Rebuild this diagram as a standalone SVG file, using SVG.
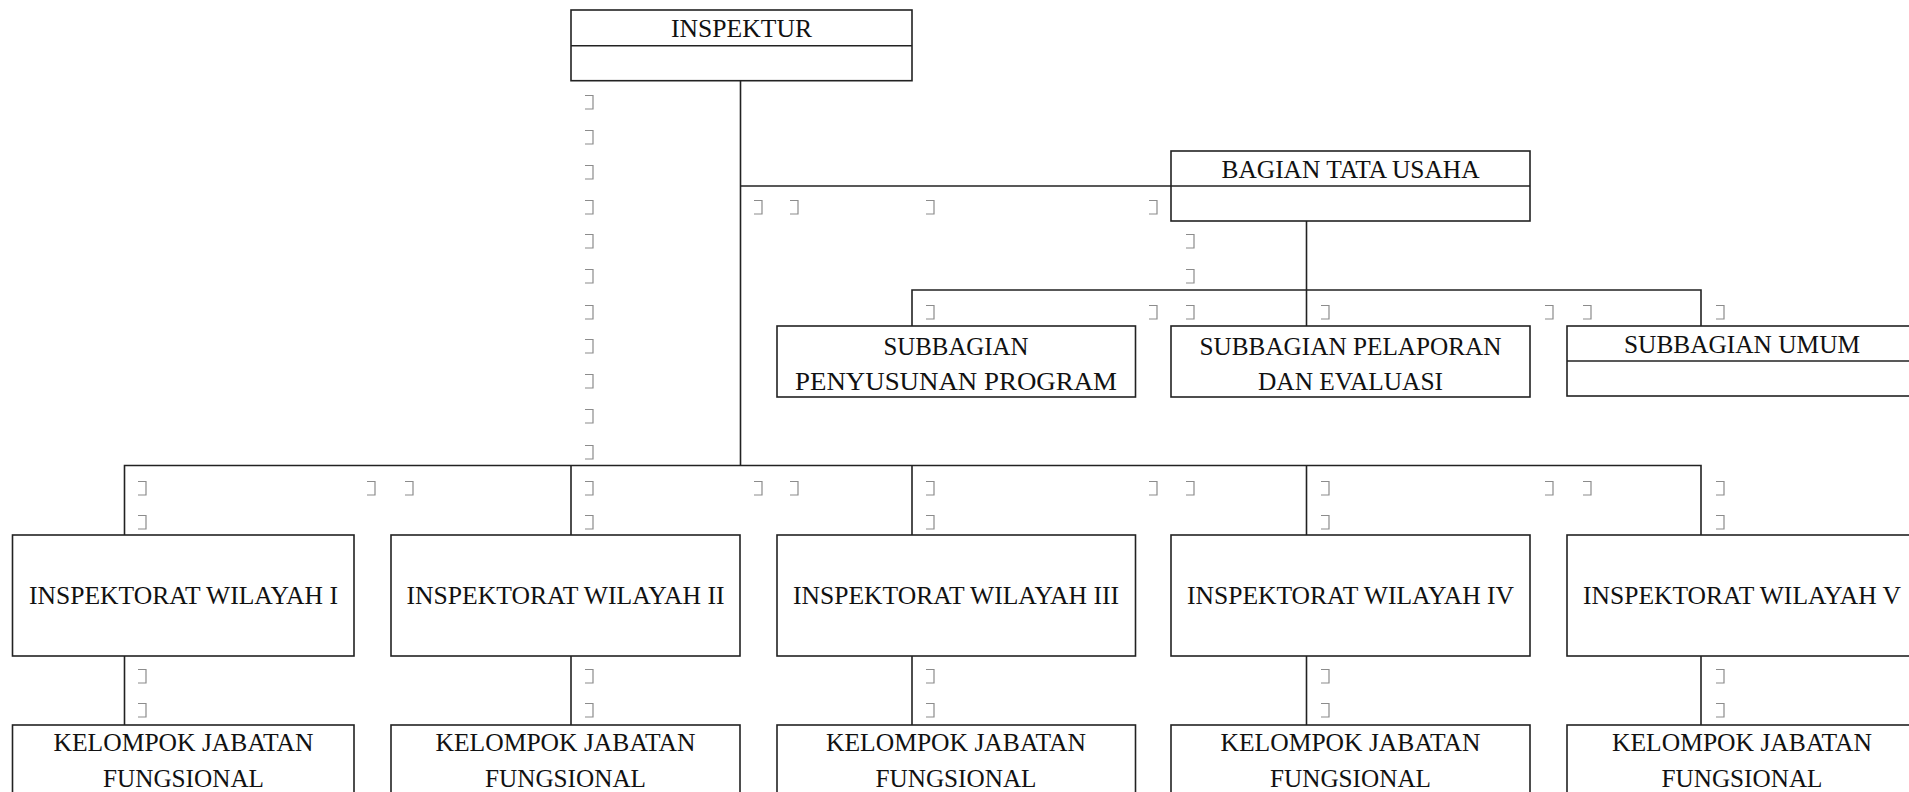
<svg xmlns="http://www.w3.org/2000/svg" xmlns:xlink="http://www.w3.org/1999/xlink" width="1909" height="792" viewBox="0 0 1909 792">
<style>
.box{fill:#fff;stroke:#222;stroke-width:1.6}
.div{stroke:#222;stroke-width:1.6;fill:none}
.con{stroke:#222;stroke-width:1.6;fill:none}
.t{font-family:"Liberation Serif","Times New Roman",serif;font-size:25px;fill:#111;text-anchor:middle}
.mk{fill:none;stroke:#8c8c8c;stroke-width:1.2}
</style>
<defs>
<path id="m" class="mk" d="M0 0.5H8V14H0"/>
</defs>
<rect width="1909" height="792" fill="#fff"/>
<g id="marks">
<use xlink:href="#m" x="585" y="95"/><use xlink:href="#m" x="585" y="130"/><use xlink:href="#m" x="585" y="165"/><use xlink:href="#m" x="585" y="200"/><use xlink:href="#m" x="585" y="234"/><use xlink:href="#m" x="585" y="269"/><use xlink:href="#m" x="585" y="305"/><use xlink:href="#m" x="585" y="339"/><use xlink:href="#m" x="585" y="374"/><use xlink:href="#m" x="585" y="409"/><use xlink:href="#m" x="585" y="445"/><use xlink:href="#m" x="585" y="481"/><use xlink:href="#m" x="585" y="515"/><use xlink:href="#m" x="585" y="669"/><use xlink:href="#m" x="585" y="703"/>
<use xlink:href="#m" x="138" y="481"/><use xlink:href="#m" x="138" y="515"/><use xlink:href="#m" x="138" y="669"/><use xlink:href="#m" x="138" y="703"/>
<use xlink:href="#m" x="367" y="481"/><use xlink:href="#m" x="405" y="481"/>
<use xlink:href="#m" x="754" y="200"/><use xlink:href="#m" x="790" y="200"/><use xlink:href="#m" x="754" y="481"/><use xlink:href="#m" x="790" y="481"/>
<use xlink:href="#m" x="926" y="200"/><use xlink:href="#m" x="926" y="305"/><use xlink:href="#m" x="926" y="481"/><use xlink:href="#m" x="926" y="515"/><use xlink:href="#m" x="926" y="669"/><use xlink:href="#m" x="926" y="703"/>
<use xlink:href="#m" x="1149" y="200"/><use xlink:href="#m" x="1149" y="305"/><use xlink:href="#m" x="1149" y="481"/>
<use xlink:href="#m" x="1186" y="234"/><use xlink:href="#m" x="1186" y="269"/><use xlink:href="#m" x="1186" y="305"/><use xlink:href="#m" x="1186" y="481"/>
<use xlink:href="#m" x="1321" y="305"/><use xlink:href="#m" x="1321" y="481"/><use xlink:href="#m" x="1321" y="515"/><use xlink:href="#m" x="1321" y="669"/><use xlink:href="#m" x="1321" y="703"/>
<use xlink:href="#m" x="1545" y="305"/><use xlink:href="#m" x="1583" y="305"/><use xlink:href="#m" x="1545" y="481"/><use xlink:href="#m" x="1583" y="481"/>
<use xlink:href="#m" x="1716" y="305"/><use xlink:href="#m" x="1716" y="481"/><use xlink:href="#m" x="1716" y="515"/><use xlink:href="#m" x="1716" y="669"/><use xlink:href="#m" x="1716" y="703"/>
</g>
<g id="connectors">
<path class="con" d="M740.5 80.7V465.5"/>
<path class="con" d="M740.5 186H1171"/>
<path class="con" d="M1306.5 221V326"/>
<path class="con" d="M912 326V290H1701V326"/>
<path class="con" d="M124.5 535V465.5H1701V535"/>
<path class="con" d="M571 465.5V535M912 465.5V535M1306.5 465.5V535"/>
<path class="con" d="M124.5 656V725M571 656V725M912 656V725M1306.5 656V725M1701 656V725"/>
</g>
<g id="inspektur">
<rect class="box" x="571" y="10" width="341" height="70.7"/>
<path class="div" d="M571 45.7H912"/>
<text class="t" x="741.5" y="36.7" textLength="141" lengthAdjust="spacingAndGlyphs">INSPEKTUR</text>
</g>
<g id="bagian-tata-usaha">
<rect class="box" x="1171" y="151" width="359" height="70"/>
<path class="div" d="M1171 186H1530"/>
<text class="t" x="1350.5" y="177.7" textLength="258" lengthAdjust="spacingAndGlyphs">BAGIAN TATA USAHA</text>
</g>
<g id="subbagian-penyusunan-program">
<rect class="box" x="777" y="326" width="358.5" height="71"/>
<text class="t" x="956" y="355" textLength="145" lengthAdjust="spacingAndGlyphs">SUBBAGIAN</text>
<text class="t" x="956" y="390" textLength="322" lengthAdjust="spacingAndGlyphs">PENYUSUNAN PROGRAM</text>
</g>
<g id="subbagian-pelaporan">
<rect class="box" x="1171" y="326" width="359" height="71"/>
<text class="t" x="1350.5" y="355" textLength="302" lengthAdjust="spacingAndGlyphs">SUBBAGIAN PELAPORAN</text>
<text class="t" x="1350.5" y="390" textLength="185" lengthAdjust="spacingAndGlyphs">DAN EVALUASI</text>
</g>
<g id="subbagian-umum">
<rect class="box" x="1567" y="326" width="359" height="70"/>
<path class="div" d="M1567 361H1926"/>
<text class="t" x="1742" y="352.7" textLength="236" lengthAdjust="spacingAndGlyphs">SUBBAGIAN UMUM</text>
</g>
<g id="wilayah-1">
<rect class="box" x="12.5" y="535" width="341.5" height="121"/>
<text class="t" x="183.5" y="604" textLength="309" lengthAdjust="spacingAndGlyphs">INSPEKTORAT WILAYAH I</text>
</g>
<g id="wilayah-2">
<rect class="box" x="391" y="535" width="349" height="121"/>
<text class="t" x="565.5" y="604" textLength="318" lengthAdjust="spacingAndGlyphs">INSPEKTORAT WILAYAH II</text>
</g>
<g id="wilayah-3">
<rect class="box" x="777" y="535" width="358.5" height="121"/>
<text class="t" x="956" y="604" textLength="326" lengthAdjust="spacingAndGlyphs">INSPEKTORAT WILAYAH III</text>
</g>
<g id="wilayah-4">
<rect class="box" x="1171" y="535" width="359" height="121"/>
<text class="t" x="1350.5" y="604" textLength="327" lengthAdjust="spacingAndGlyphs">INSPEKTORAT WILAYAH IV</text>
</g>
<g id="wilayah-5">
<rect class="box" x="1567" y="535" width="359" height="121"/>
<text class="t" x="1742" y="604" textLength="318" lengthAdjust="spacingAndGlyphs">INSPEKTORAT WILAYAH V</text>
</g>
<g id="kelompok-1">
<rect class="box" x="12.5" y="725" width="341.5" height="130"/>
<text class="t" x="183.5" y="750.7" textLength="260" lengthAdjust="spacingAndGlyphs">KELOMPOK JABATAN</text>
<text class="t" x="183.5" y="787" textLength="161" lengthAdjust="spacingAndGlyphs">FUNGSIONAL</text>
</g>
<g id="kelompok-2">
<rect class="box" x="391" y="725" width="349" height="130"/>
<text class="t" x="565.5" y="750.7" textLength="260" lengthAdjust="spacingAndGlyphs">KELOMPOK JABATAN</text>
<text class="t" x="565.5" y="787" textLength="161" lengthAdjust="spacingAndGlyphs">FUNGSIONAL</text>
</g>
<g id="kelompok-3">
<rect class="box" x="777" y="725" width="358.5" height="130"/>
<text class="t" x="956" y="750.7" textLength="260" lengthAdjust="spacingAndGlyphs">KELOMPOK JABATAN</text>
<text class="t" x="956" y="787" textLength="161" lengthAdjust="spacingAndGlyphs">FUNGSIONAL</text>
</g>
<g id="kelompok-4">
<rect class="box" x="1171" y="725" width="359" height="130"/>
<text class="t" x="1350.5" y="750.7" textLength="260" lengthAdjust="spacingAndGlyphs">KELOMPOK JABATAN</text>
<text class="t" x="1350.5" y="787" textLength="161" lengthAdjust="spacingAndGlyphs">FUNGSIONAL</text>
</g>
<g id="kelompok-5">
<rect class="box" x="1567" y="725" width="359" height="130"/>
<text class="t" x="1742" y="750.7" textLength="260" lengthAdjust="spacingAndGlyphs">KELOMPOK JABATAN</text>
<text class="t" x="1742" y="787" textLength="161" lengthAdjust="spacingAndGlyphs">FUNGSIONAL</text>
</g>
</svg>
